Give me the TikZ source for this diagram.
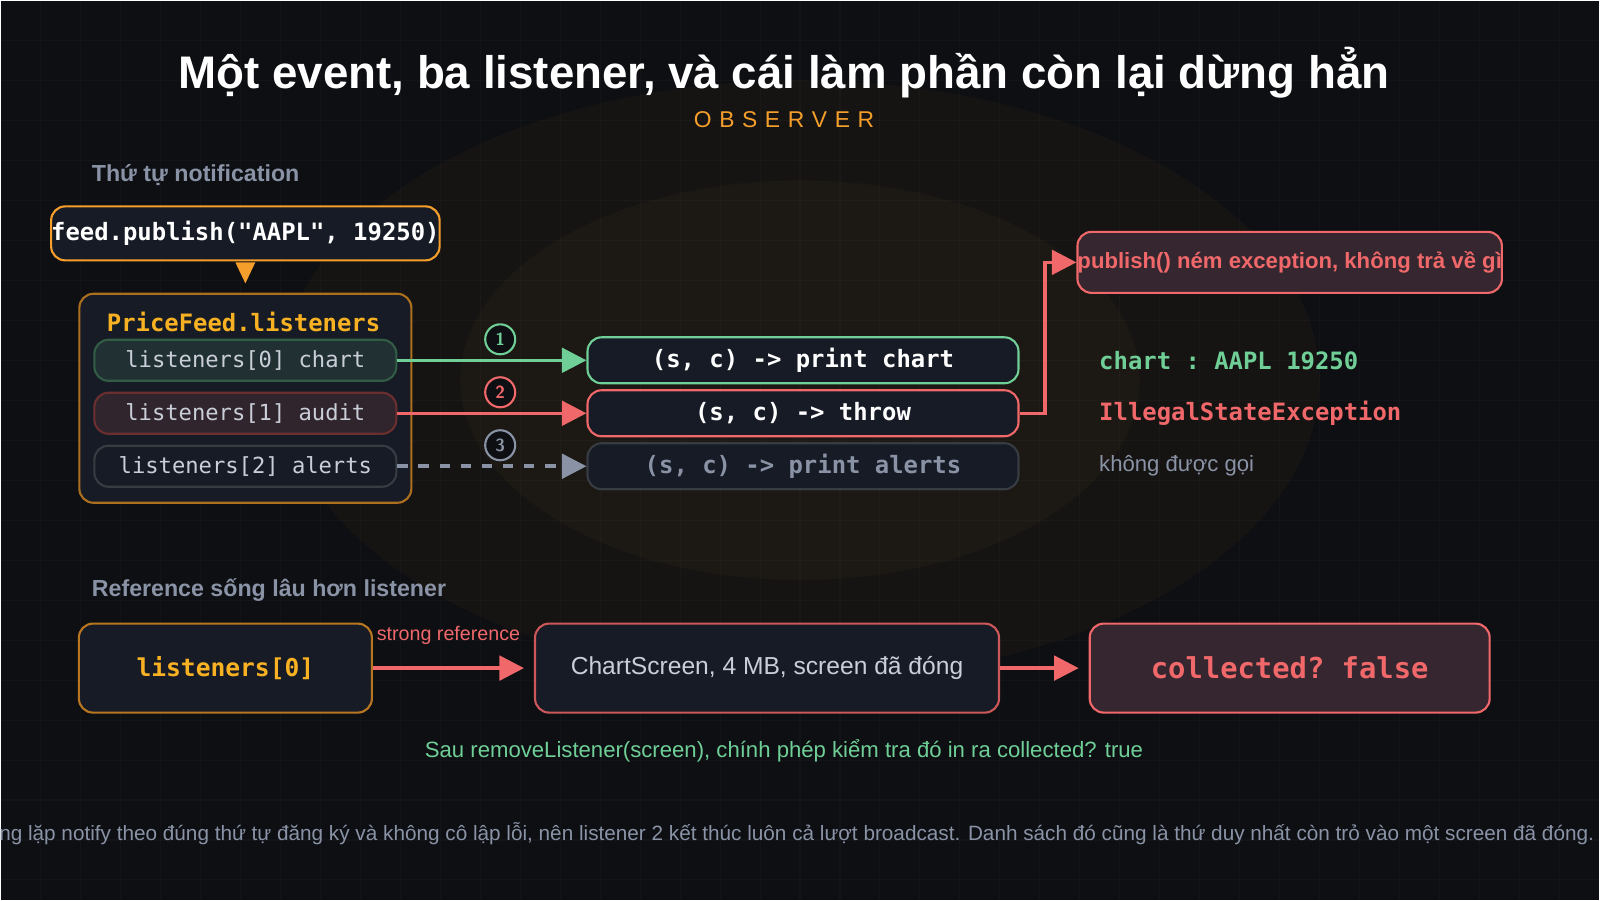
\documentclass[tikz,border=0pt]{standalone}
\usepackage{fontspec}
\setmainfont{Liberation Sans}
\setmonofont{DejaVu Sans Mono}
\usetikzlibrary{arrows.meta, positioning, calc}
\definecolor{bgdark}{HTML}{0D0F13}
\definecolor{boxfill}{HTML}{161B25}
\definecolor{accent}{HTML}{F59E2B}
\definecolor{okgreen}{HTML}{6FCF97}
\definecolor{errred}{HTML}{F0686A}
\definecolor{mutegray}{HTML}{8A93A6}
\definecolor{textgray}{HTML}{C9CED8}

\begin{document}
\begin{tikzpicture}[x=0.01cm, y=-0.01cm,
    box/.style={rectangle, rounded corners=4pt, draw, line width=0.6pt, fill=boxfill,
                inner sep=0pt, align=center},
    item/.style={box, minimum width=3.02cm, minimum height=0.41cm, font=\ttfamily\fontsize{6.3}{7}\selectfont, text=textgray},
    call/.style={box, minimum width=4.31cm, minimum height=0.46cm, font=\ttfamily\bfseries\fontsize{6.8}{8}\selectfont, text=white},
    order/.style={circle, draw, line width=0.6pt, fill=bgdark, minimum size=0.3cm, inner sep=0pt, font=\sffamily\bfseries\fontsize{5}{6}\selectfont},
    link/.style={-{Triangle[length=7pt, width=7pt]}, line width=1pt},
    heading/.style={anchor=west, text=mutegray, font=\bfseries\fontsize{6.6}{8}\selectfont}]

    % background
    \fill[bgdark] (0,0) rectangle (1600,900);
    \fill[accent, opacity=0.04] (800,380) ellipse (520 and 300);
    \fill[accent, opacity=0.03] (800,380) ellipse (340 and 200);
    \foreach \g in {40,80,...,1560} \draw[white, opacity=0.025, line width=0.3pt] (\g,0) -- (\g,900);
    \foreach \g in {40,80,...,880} \draw[white, opacity=0.025, line width=0.3pt] (0,\g) -- (1600,\g);
    \useasboundingbox (0,0) rectangle (1600,900);

    % title
    \node[text=white, font=\bfseries\fontsize{13}{15}\selectfont] (title) at (784,72) {Một event, ba listener, và cái làm phần còn lại dừng hẳn};
    \node[text=accent, font=\fontsize{6.5}{8}\selectfont] (sub) at (784,119) {O\,\,B\,\,S\,\,E\,\,R\,\,V\,\,E\,\,R};

    % notification order
    \node[heading] (head1) at (79,175) {Thứ tự notification};
    \node[box, draw=accent, minimum width=3.32cm, minimum height=0.54cm, text=white,
          font=\ttfamily\bfseries\fontsize{6.8}{8}\selectfont] (feed) at (245,233) {feed.publish("AAPL", 19250)};
    \fill[accent] (235,262) -- (255,262) -- (245,283) -- cycle;
    \node[box, draw=accent!70!black, minimum width=3.32cm, minimum height=2.09cm] (group) at (245,398) {};
    \node[anchor=west, text=accent!80!yellow, font=\ttfamily\bfseries\fontsize{6.8}{8}\selectfont] (grouplbl) at (94,322) {PriceFeed.listeners};
    \node[item, draw=okgreen!45!black, fill=okgreen!12!boxfill] (l0) at (245,360) {listeners[0] chart};
    \node[item, draw=errred!45!black, fill=errred!12!boxfill] (l1) at (245,413) {listeners[1] audit};
    \node[item, draw=mutegray!40!black] (l2) at (245,466) {listeners[2] alerts};

    \node[call, draw=okgreen] (c0) at (803,360) {(s, c) -> print chart};
    \node[call, draw=errred] (c1) at (803,413) {(s, c) -> throw};
    \node[call, draw=mutegray!40!black, text=mutegray] (c2) at (803,466) {(s, c) -> print alerts};

    \draw[link, okgreen] (l0.east) -- (c0.west);
    \draw[link, errred] (l1.east) -- (c1.west);
    \draw[link, mutegray, dashed] (l2.east) -- (c2.west);
    \node[order, draw=okgreen, text=okgreen] (s1) at (500,339) {1};
    \node[order, draw=errred, text=errred] (s2) at (500,392) {2};
    \node[order, draw=mutegray, text=mutegray] (s3) at (500,445) {3};

    \node[box, draw=errred, fill=errred!14!boxfill, minimum width=4cm, minimum height=0.61cm, text=errred,
          font=\bfseries\fontsize{6.3}{8}\selectfont] (thrown) at (1290,262) {publish() ném exception, không trả về gì};
    \draw[link, errred] (c1.east) -- (1045,413) |- (thrown.west);

    \node[anchor=west, text=okgreen, font=\ttfamily\bfseries\fontsize{6.8}{8}\selectfont] (out0) at (1087,360) {chart : AAPL 19250};
    \node[anchor=west, text=errred, font=\ttfamily\bfseries\fontsize{6.8}{8}\selectfont] (out1) at (1087,413) {IllegalStateException};
    \node[anchor=west, text=mutegray, font=\fontsize{6.3}{8}\selectfont] (out2) at (1087,466) {không được gọi};

    % reference
    \node[heading] (head2) at (79,590) {Reference sống lâu hơn listener};
    \node[box, draw=accent!75!black, minimum width=2.93cm, minimum height=0.89cm, text=accent!80!yellow,
          font=\ttfamily\bfseries\fontsize{7}{8}\selectfont] (ref) at (225,668) {listeners[0]};
    \node[box, draw=errred!85!black, minimum width=4.64cm, minimum height=0.89cm, text=textgray,
          font=\fontsize{7}{8}\selectfont] (screen) at (767,668) {ChartScreen, 4 MB, screen đã đóng};
    \node[box, draw=errred, fill=errred!14!boxfill, minimum width=4cm, minimum height=0.89cm, text=errred,
          font=\ttfamily\bfseries\fontsize{8.2}{9}\selectfont] (gc) at (1290,668) {collected? false};
    \draw[link, errred] (ref.east) -- node[above=3pt, text=errred, font=\fontsize{5.6}{7}\selectfont] {strong reference} ($(screen.west)+(-10,0)$);
    \draw[link, errred] (screen.east) -- ($(gc.west)+(-10,0)$);

    \node[text=okgreen, font=\fontsize{6.3}{8}\selectfont] (fix) at (784,751) {Sau removeListener(screen), chính phép kiểm tra đó in ra collected? true};
    \node[text=mutegray, font=\fontsize{5.9}{7}\selectfont] (note) at (784,834) {Vòng lặp notify theo đúng thứ tự đăng ký và không cô lập lỗi, nên listener 2 kết thúc luôn cả lượt broadcast. Danh sách đó cũng là thứ duy nhất còn trỏ vào một screen đã đóng.};
\end{tikzpicture}
\end{document}
